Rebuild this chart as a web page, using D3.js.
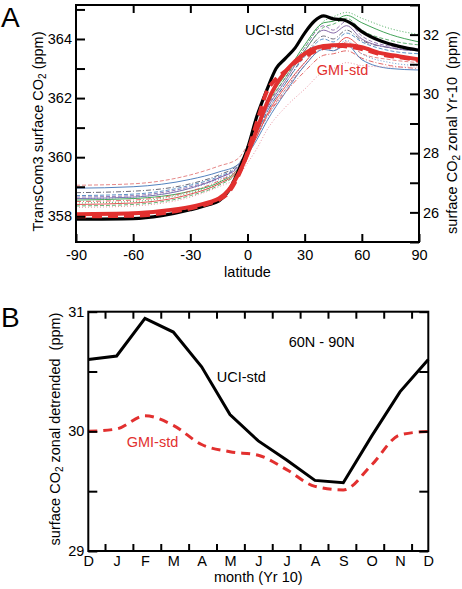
<!DOCTYPE html>
<html>
<head>
<meta charset="utf-8">
<script src="https://cdn.jsdelivr.net/npm/d3@7"></script>
<style>
  html, body { margin: 0; padding: 0; background: #fff; }
  svg { display: block; font-family: "Liberation Sans", Arial, Helvetica, sans-serif; }
  .tick text { font-size: 14.5px; fill: #000; }
  .tick line { stroke: #000; stroke-width: 2; }
</style>
</head>
<body>
<svg id="chart" width="462" height="589"></svg>
<script>
// ---------------- DATA (panel A) ----------------
const latTicks = [-90, -60, -30, 0, 30, 60, 90];
const leftTicksA = [358, 359, 360, 361, 362, 363, 364, 365];
const rightTicksA = [25, 26, 27, 28, 29, 30, 31, 32, 33];

const latThick = [-90, -60, -45, -30, -20, -15, -10, -5, 0, 5, 10, 15, 20, 25, 30, 35, 40, 45, 50, 55, 60, 70, 80, 90];
const uciStdA = [357.90, 357.92, 358.02, 358.22, 358.40, 358.52, 358.85, 359.50, 360.30, 361.40, 362.25, 363.00, 363.35, 363.70, 364.20, 364.60, 364.78, 364.68, 364.65, 364.50, 364.25, 363.93, 363.74, 363.62];
const gmiMeanA = [358.07, 358.10, 358.18, 358.32, 358.48, 358.60, 358.88, 359.40, 360.10, 360.95, 361.80, 362.45, 362.90, 363.25, 363.50, 363.68, 363.76, 363.79, 363.80, 363.78, 363.72, 363.52, 363.41, 363.31];
const gmiStdA = [358.00, 358.02, 358.10, 358.27, 358.44, 358.56, 358.80, 359.35, 360.15, 361.20, 362.20, 362.65, 362.92, 363.20, 363.40, 363.58, 363.70, 363.74, 363.76, 363.72, 363.66, 363.48, 363.38, 363.28];

const latThin = [-90, -60, -30, -15, -5, 0, 5, 10, 20, 30, 40, 45, 52, 60, 75, 90];
const tcGreenSolid  = [358.55, 358.60, 358.85, 359.15, 359.60, 360.30, 361.00, 361.80, 362.80, 363.80, 364.55, 364.60, 364.80, 364.55, 364.15, 363.90];
const tcGreenDotted = [358.45, 358.50, 358.80, 359.10, 359.50, 360.20, 360.90, 361.70, 362.70, 363.70, 364.60, 364.75, 364.90, 364.70, 364.35, 364.15];
const tcBlueSolid   = [358.95, 359.00, 359.25, 359.50, 359.75, 360.10, 360.60, 361.20, 362.20, 363.10, 363.65, 363.60, 363.80, 363.30, 363.00, 362.95];
const tcBlueDashed  = [358.70, 358.75, 359.05, 359.35, 359.70, 360.20, 360.80, 361.50, 362.50, 363.40, 364.00, 363.90, 364.20, 363.90, 363.60, 363.50];
const tcPurpleSolid = [358.60, 358.65, 358.95, 359.30, 359.65, 360.20, 360.90, 361.60, 362.60, 363.60, 364.30, 364.20, 364.45, 364.00, 363.70, 363.60];
const tcPurpleDash  = [358.65, 358.70, 359.00, 359.30, 359.70, 360.30, 360.95, 361.65, 362.70, 363.70, 364.45, 364.30, 364.60, 364.10, 363.75, 363.65];
const tcRedSolid    = [358.40, 358.45, 358.75, 359.10, 359.55, 360.10, 360.70, 361.40, 362.40, 363.20, 363.80, 363.75, 364.05, 363.70, 363.45, 363.30];
const tcPinkDashed  = [359.05, 359.10, 359.40, 359.70, 359.95, 360.40, 360.90, 361.40, 362.30, 363.10, 363.70, 363.60, 363.90, 363.50, 363.30, 363.20];
const tcPinkDotted  = [358.30, 358.35, 358.65, 359.00, 359.35, 359.80, 360.30, 360.90, 361.70, 362.30, 362.90, 363.00, 363.20, 363.10, 363.05, 363.05];
const tcGrayDashDot = [358.80, 358.85, 359.10, 359.40, 359.75, 360.25, 360.85, 361.50, 362.50, 363.45, 364.10, 364.00, 364.30, 363.95, 363.70, 363.60];
const tcGreenDashed = [358.35, 358.40, 358.70, 359.05, 359.50, 360.20, 360.95, 361.70, 362.70, 363.60, 364.40, 364.50, 364.70, 364.30, 363.95, 363.80];
const tcRedDashDot  = [358.50, 358.55, 358.85, 359.20, 359.60, 360.15, 360.75, 361.35, 362.20, 362.90, 363.45, 363.50, 363.60, 363.35, 363.10, 363.00];
const tcBlueDotted  = [358.60, 358.65, 358.95, 359.25, 359.60, 360.10, 360.70, 361.30, 362.30, 363.20, 363.75, 363.70, 363.95, 363.50, 363.20, 363.10];

// ---------------- DATA (panel B) ----------------
const months = ["D", "J", "F", "M", "A", "M", "J", "J", "A", "S", "O", "N", "D"];
const uciStdB = [30.60, 30.63, 30.945, 30.83, 30.54, 30.14, 29.92, 29.76, 29.59, 29.57, 29.96, 30.33, 30.60];
const gmiStdB = [30.00, 30.02, 30.13, 30.05, 29.89, 29.83, 29.80, 29.68, 29.54, 29.51, 29.72, 29.97, 30.00];
const yTicksB = [29, 29.5, 30, 30.5, 31];

// ---------------- STYLES ----------------
const thinSeries = [
  { v: tcPinkDashed,  c: "#e27a7a", d: "4,2" },
  { v: tcBlueSolid,   c: "#3f74b5", d: null },
  { v: tcGrayDashDot, c: "#5a5a6a", d: "5,2,1,2" },
  { v: tcBlueDashed,  c: "#4a86c0", d: "4,2" },
  { v: tcPurpleDash,  c: "#8b6aaa", d: "4,2" },
  { v: tcPurpleSolid, c: "#7a5a9e", d: null },
  { v: tcBlueDotted,  c: "#5a8fc8", d: "1,2" },
  { v: tcGreenDotted, c: "#3aa54e", d: "1,2" },
  { v: tcGreenSolid,  c: "#2e9a46", d: null },
  { v: tcGreenDashed, c: "#55aa66", d: "4,2" },
  { v: tcRedDashDot,  c: "#e05858", d: "5,2,1,2" },
  { v: tcRedSolid,    c: "#e04040", d: null },
  { v: tcPinkDotted,  c: "#e58a9a", d: "1,2" }
];

const svg = d3.select("#chart");
const FS = 14.5;
const RED = "#e2302f";

// ================= PANEL A =================
const A = { l: 76, r: 419, t: 5, b: 242 };
const xA = d3.scaleLinear().domain([-90, 90]).range([A.l, A.r]);
const yL = d3.scaleLinear().domain([357.13, 365.15]).range([A.b, A.t]);
const yR = d3.scaleLinear().domain([25, 33]).range([A.b, A.t]);

const gA = svg.append("g");

const lineA = vals => d3.line()
  .x((d, i) => xA(vals.lat[i]))
  .y(d => yL(d))
  .curve(d3.curveMonotoneX)(vals.v);

thinSeries.forEach(s => {
  gA.append("path")
    .attr("d", lineA({ lat: latThin, v: s.v }))
    .attr("fill", "none")
    .attr("stroke", s.c)
    .attr("stroke-width", 0.9)
    .attr("stroke-dasharray", s.d);
});

gA.append("path").attr("d", lineA({ lat: latThick, v: uciStdA }))
  .attr("fill", "none").attr("stroke", "#000").attr("stroke-width", 3.2);
gA.append("path").attr("d", lineA({ lat: latThick, v: gmiMeanA }))
  .attr("fill", "none").attr("stroke", RED).attr("stroke-width", 4);
gA.append("path").attr("d", lineA({ lat: latThick, v: gmiStdA }))
  .attr("fill", "none").attr("stroke", RED).attr("stroke-width", 4)
  .attr("stroke-dasharray", "10,6");

// axes A
const axA = [];
axA.push(gA.append("g").attr("transform", `translate(0,${A.b})`)
  .call(d3.axisBottom(xA).tickValues(latTicks).tickSize(-8).tickSizeOuter(0).tickPadding(8)
    .tickFormat(d => String(d))));
axA.push(gA.append("g").attr("transform", `translate(0,${A.t})`)
  .call(d3.axisTop(xA).tickValues(latTicks.slice(1, -1)).tickSize(-8).tickSizeOuter(0).tickFormat("")));
axA.push(gA.append("g").attr("transform", `translate(${A.l},0)`)
  .call(d3.axisLeft(yL).tickValues(leftTicksA).tickSize(-9).tickSizeOuter(0).tickPadding(4)
    .tickFormat(d => d % 2 === 0 ? String(d) : "")));
axA.push(gA.append("g").attr("transform", `translate(${A.r},0)`)
  .call(d3.axisRight(yR).tickValues(rightTicksA).tickSize(-9).tickSizeOuter(0).tickPadding(4)
    .tickFormat(d => (d % 2 === 0 && d >= 26 && d <= 32) ? String(d) : "")));

gA.append("rect").attr("x", A.l).attr("y", A.t).attr("width", A.r - A.l).attr("height", A.b - A.t)
  .attr("fill", "none").attr("stroke", "#000").attr("stroke-width", 2);

// ================= PANEL B =================
const B = { l: 88.3, r: 428.3, t: 311.7, b: 551 };
const xB = d3.scaleLinear().domain([0, 12]).range([B.l, B.r]);
const yB = d3.scaleLinear().domain([29, 31]).range([B.b, B.t]);
const monthBounds = d3.range(12).map(k => 0.59 + k * (11.41 - 0.59) / 11);

const gB = svg.append("g");

gB.append("path")
  .attr("d", d3.line().x((d, i) => xB(i)).y(d => yB(d)).curve(d3.curveMonotoneX)(gmiStdB))
  .attr("fill", "none").attr("stroke", RED).attr("stroke-width", 3)
  .attr("stroke-dasharray", "9,6");
gB.append("path")
  .attr("d", d3.line().x((d, i) => xB(i)).y(d => yB(d))(uciStdB))
  .attr("fill", "none").attr("stroke", "#000").attr("stroke-width", 3);

axA.push(gB.append("g").attr("transform", `translate(0,${B.b})`)
  .call(d3.axisBottom(xB).tickValues(monthBounds).tickSize(-7).tickSizeOuter(0).tickFormat("")));
axA.push(gB.append("g").attr("transform", `translate(0,${B.b})`)
  .call(d3.axisBottom(xB).tickValues(d3.range(13)).tickSize(0).tickSizeOuter(0).tickPadding(5)
    .tickFormat(i => months[i])));
axA.push(gB.append("g").attr("transform", `translate(0,${B.t})`)
  .call(d3.axisTop(xB).tickValues(monthBounds).tickSize(-7).tickSizeOuter(0).tickFormat("")));
axA.push(gB.append("g").attr("transform", `translate(${B.l},0)`)
  .call(d3.axisLeft(yB).tickValues(yTicksB).tickSize(-9).tickSizeOuter(0).tickPadding(4)
    .tickFormat(d => Number.isInteger(d) ? String(d) : "")));
axA.push(gB.append("g").attr("transform", `translate(${B.r},0)`)
  .call(d3.axisRight(yB).tickValues(yTicksB).tickSize(-9).tickSizeOuter(0).tickFormat("")));

gB.append("rect").attr("x", B.l).attr("y", B.t).attr("width", B.r - B.l).attr("height", B.b - B.t)
  .attr("fill", "none").attr("stroke", "#000").attr("stroke-width", 2);

axA.forEach(g => {
  g.select(".domain").remove();
  g.selectAll("text").attr("font-size", FS).attr("font-family", "Liberation Sans, Arial, sans-serif").attr("fill", "#000");
});

// ================= TEXT =================
function co2Label(sel, before, after) {
  sel.append("tspan").text(before + "CO");
  sel.append("tspan").attr("font-size", 10).attr("dy", 3).text("2");
  sel.append("tspan").attr("dy", -3).text(after);
}

svg.append("text").attr("x", 1).attr("y", 26.7).attr("font-size", 28).text("A");
svg.append("text").attr("x", 1).attr("y", 326.7).attr("font-size", 28).text("B");

// panel A axis titles
co2Label(svg.append("text").attr("font-size", FS).attr("text-anchor", "middle")
  .attr("transform", `translate(43,${(A.t + A.b) / 2 + 8}) rotate(-90)`), "TransCom3 surface ", " (ppm)");
co2Label(svg.append("text").attr("font-size", FS).attr("text-anchor", "middle")
  .attr("transform", `translate(457,${(A.t + A.b) / 2 + 9}) rotate(-90)`), "surface ", " zonal Yr-10\u00a0\u00a0(ppm)");
svg.append("text").attr("font-size", FS).attr("text-anchor", "middle")
  .attr("x", xA(0)).attr("y", 277).text("latitude");

svg.append("text").attr("font-size", FS).attr("x", 245).attr("y", 35).text("UCI-std");
svg.append("text").attr("font-size", FS).attr("x", 316.7).attr("y", 75).attr("fill", RED).text("GMI-std");

// panel B titles
co2Label(svg.append("text").attr("font-size", FS).attr("text-anchor", "middle")
  .attr("transform", `translate(59.5,429) rotate(-90)`), "surface ", " zonal detrended\u00a0\u00a0(ppm)");
svg.append("text").attr("font-size", FS).attr("text-anchor", "middle")
  .attr("x", (B.l + B.r) / 2).attr("y", 582).text("month (Yr 10)");
svg.append("text").attr("font-size", FS).attr("text-anchor", "middle")
  .attr("x", 321.7).attr("y", 347.3).text("60N - 90N");
svg.append("text").attr("font-size", FS).attr("x", 216.7).attr("y", 381.7).text("UCI-std");
svg.append("text").attr("font-size", FS).attr("x", 126.7).attr("y", 446.7).attr("fill", RED).text("GMI-std");
</script>
</body>
</html>
